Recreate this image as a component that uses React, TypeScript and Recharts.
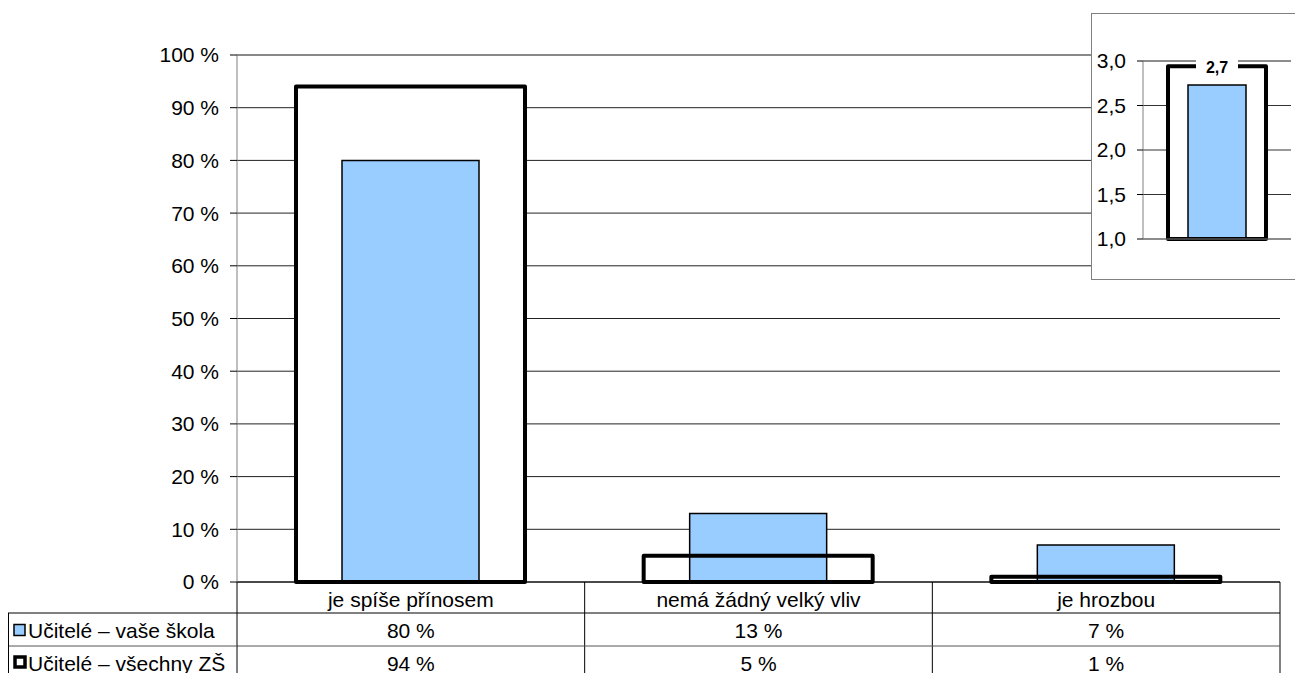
import React from 'react';
import { BarChart, Bar, XAxis, YAxis, CartesianGrid, ReferenceLine, LabelList } from 'recharts';

const categories = ['je spíše přínosem', 'nemá žádný velký vliv', 'je hrozbou'];
const vaseSkola = [80, 13, 7];
const vsechnyZS = [94, 5, 1];
const seriesNames = ['Učitelé – vaše škola', 'Učitelé – všechny ZŠ'];
const yTicks = [0, 10, 20, 30, 40, 50, 60, 70, 80, 90, 100];

const insetCategories = ['průměr'];
const insetVase = [2.73];
const insetVsechny = [2.94];
const insetLabels = ['2,7'];
const insetTicks = [1, 1.5, 2, 2.5, 3];

const data = categories.map((c, i) => ({ cat: c, vase: vaseSkola[i], vsechny: vsechnyZS[i] }));
const insetData = insetCategories.map((c, i) => ({ cat: c, vase: insetVase[i], vsechny: insetVsechny[i], label: insetLabels[i] }));

const W = 1295;
const H = 673;
const PLOT_LEFT = 237;
const PLOT_RIGHT = 1280;
const PLOT_TOP = 55;
const PLOT_BOTTOM = 582;
const BAND = (PLOT_RIGHT - PLOT_LEFT) / categories.length;
const FONT = '"Liberation Sans", Arial, sans-serif';
const FS = 21;
const BLUE = '#99CCFF';

const TableTick = (props: any) => {
  const { x, y, payload, index } = props;
  const left = x - BAND / 2;
  const right = x + BAND / 2;
  const r1 = y + 31;
  const r2 = y + 64;
  const textProps = { fontFamily: FONT, fontSize: FS, fill: '#000', dominantBaseline: 'central' as const };
  return (
    <g>
      <text x={x} y={y + 17} textAnchor="middle" {...textProps}>{payload.value}</text>
      <text x={x} y={(r1 + r2) / 2 + 1} textAnchor="middle" {...textProps}>{vaseSkola[index]} %</text>
      <text x={x} y={r2 + 17} textAnchor="middle" {...textProps}>{vsechnyZS[index]} %</text>
      <line x1={right} x2={right} y1={y} y2={H} stroke="#000" strokeWidth={1} />
      <line x1={left} x2={right} y1={r1} y2={r1} stroke="#000" strokeWidth={1} />
      <line x1={left} x2={right} y1={r2} y2={r2} stroke="#555" strokeWidth={1} />
      {index === 0 && (
        <g>
          <line x1={left} x2={left} y1={y} y2={H} stroke="#000" strokeWidth={1} />
          <line x1={8} x2={left} y1={r1} y2={r1} stroke="#000" strokeWidth={1} />
          <line x1={8} x2={left} y1={r2} y2={r2} stroke="#555" strokeWidth={1} />
          <line x1={8.5} x2={8.5} y1={r1} y2={H} stroke="#000" strokeWidth={1} />
          <rect x={14} y={(r1 + r2) / 2 - 5} width={11} height={11} fill={BLUE} stroke="#000" strokeWidth={1.5} />
          <text x={28} y={(r1 + r2) / 2 + 1} textAnchor="start" {...textProps}>{seriesNames[0]}</text>
          <rect x={15} y={r2 + 11} width={10} height={10} fill="#fff" stroke="#000" strokeWidth={3.5} />
          <text x={28} y={r2 + 17} textAnchor="start" {...textProps}>{seriesNames[1]}</text>
        </g>
      )}
    </g>
  );
};

const InsetLabel = (props: any) => {
  const { x, y, width, value } = props;
  const cx = x + width / 2;
  return (
    <g>
      <rect x={cx - 21} y={y - 9} width={42} height={18} fill="#fff" />
      <text x={cx} y={y + 1} textAnchor="middle" dominantBaseline="central" fontFamily={FONT} fontSize={16} fontWeight="bold" fill="#000">
        {value}
      </text>
    </g>
  );
};

export default function App() {
  return (
    <div style={{ position: 'absolute', left: 0, top: 0, width: W, height: H, background: '#fff', overflow: 'hidden' }}>
      <BarChart
        width={W}
        height={H}
        data={data}
        margin={{ top: PLOT_TOP, right: W - PLOT_RIGHT, left: 0, bottom: 0 }}
        barGap={0}
      >
        <CartesianGrid vertical={false} stroke="#222" strokeWidth={1} />
        <XAxis
          xAxisId="bg"
          dataKey="cat"
          height={H - PLOT_BOTTOM}
          axisLine={{ stroke: '#000' }}
          tickLine={false}
          tickSize={0}
          tickMargin={0}
          interval={0}
          tick={<TableTick />}
        />
        <XAxis xAxisId="blue" dataKey="cat" hide />
        <XAxis xAxisId="fg" dataKey="cat" hide />
        <YAxis
          domain={[0, 100]}
          ticks={yTicks}
          tickFormatter={(v: number) => `${v} %`}
          width={PLOT_LEFT}
          axisLine={{ stroke: '#808080' }}
          tickLine={{ stroke: '#000' }}
          tickSize={7}
          tickMargin={11}
          interval={0}
          tick={{ fill: '#000', fontSize: FS, fontFamily: FONT }}
        />
        <YAxis yAxisId="r" orientation="right" width={0} tick={false} tickLine={false} axisLine={{ stroke: '#808080' }} />
        <ReferenceLine y={100} stroke="#808080" strokeWidth={1} />
        <Bar xAxisId="bg" dataKey="vsechny" fill="#fff" barSize={229} isAnimationActive={false} />
        <Bar xAxisId="blue" dataKey="vase" fill={BLUE} stroke="#000" strokeWidth={1.5} barSize={137} isAnimationActive={false} />
        <Bar xAxisId="fg" dataKey="vsechny" fill="none" stroke="#000" strokeWidth={4} strokeLinejoin="round" barSize={229} isAnimationActive={false} />
      </BarChart>

      <div
        style={{
          position: 'absolute',
          left: 1091,
          top: 13,
          width: 203,
          height: 265,
          background: '#fff',
          borderLeft: '1px solid #808080',
          borderTop: '1px solid #808080',
          borderBottom: '1px solid #808080',
        }}
      >
        <BarChart width={203} height={265} data={insetData} margin={{ top: 47, right: 4, left: 0, bottom: 40 }} barGap={0}>
          <CartesianGrid vertical={false} stroke="#333" strokeWidth={1} />
          <XAxis xAxisId="bg" dataKey="cat" hide />
          <XAxis xAxisId="blue" dataKey="cat" hide />
          <XAxis xAxisId="fg" dataKey="cat" hide />
          <YAxis
            domain={[1, 3]}
            ticks={insetTicks}
            tickFormatter={(v: number) => v.toFixed(1).replace('.', ',')}
            width={51}
            axisLine={{ stroke: '#808080' }}
            tickLine={{ stroke: '#000' }}
            tickSize={6}
            tickMargin={11}
            interval={0}
            tick={{ fill: '#000', fontSize: FS, fontFamily: FONT }}
          />
          <YAxis yAxisId="r" orientation="right" width={0} tick={false} tickLine={false} axisLine={{ stroke: '#808080' }} />
          <ReferenceLine y={3} stroke="#808080" />
          <ReferenceLine y={1} stroke="#808080" />
          <Bar xAxisId="bg" dataKey="vsechny" fill="#fff" barSize={98} isAnimationActive={false} />
          <Bar xAxisId="blue" dataKey="vase" fill={BLUE} stroke="#000" strokeWidth={1.5} barSize={58} isAnimationActive={false} />
          <Bar xAxisId="fg" dataKey="vsechny" fill="none" stroke="#000" strokeWidth={4} strokeLinejoin="round" barSize={98} isAnimationActive={false}>
            <LabelList dataKey="label" content={<InsetLabel />} />
          </Bar>
        </BarChart>
      </div>
    </div>
  );
}
